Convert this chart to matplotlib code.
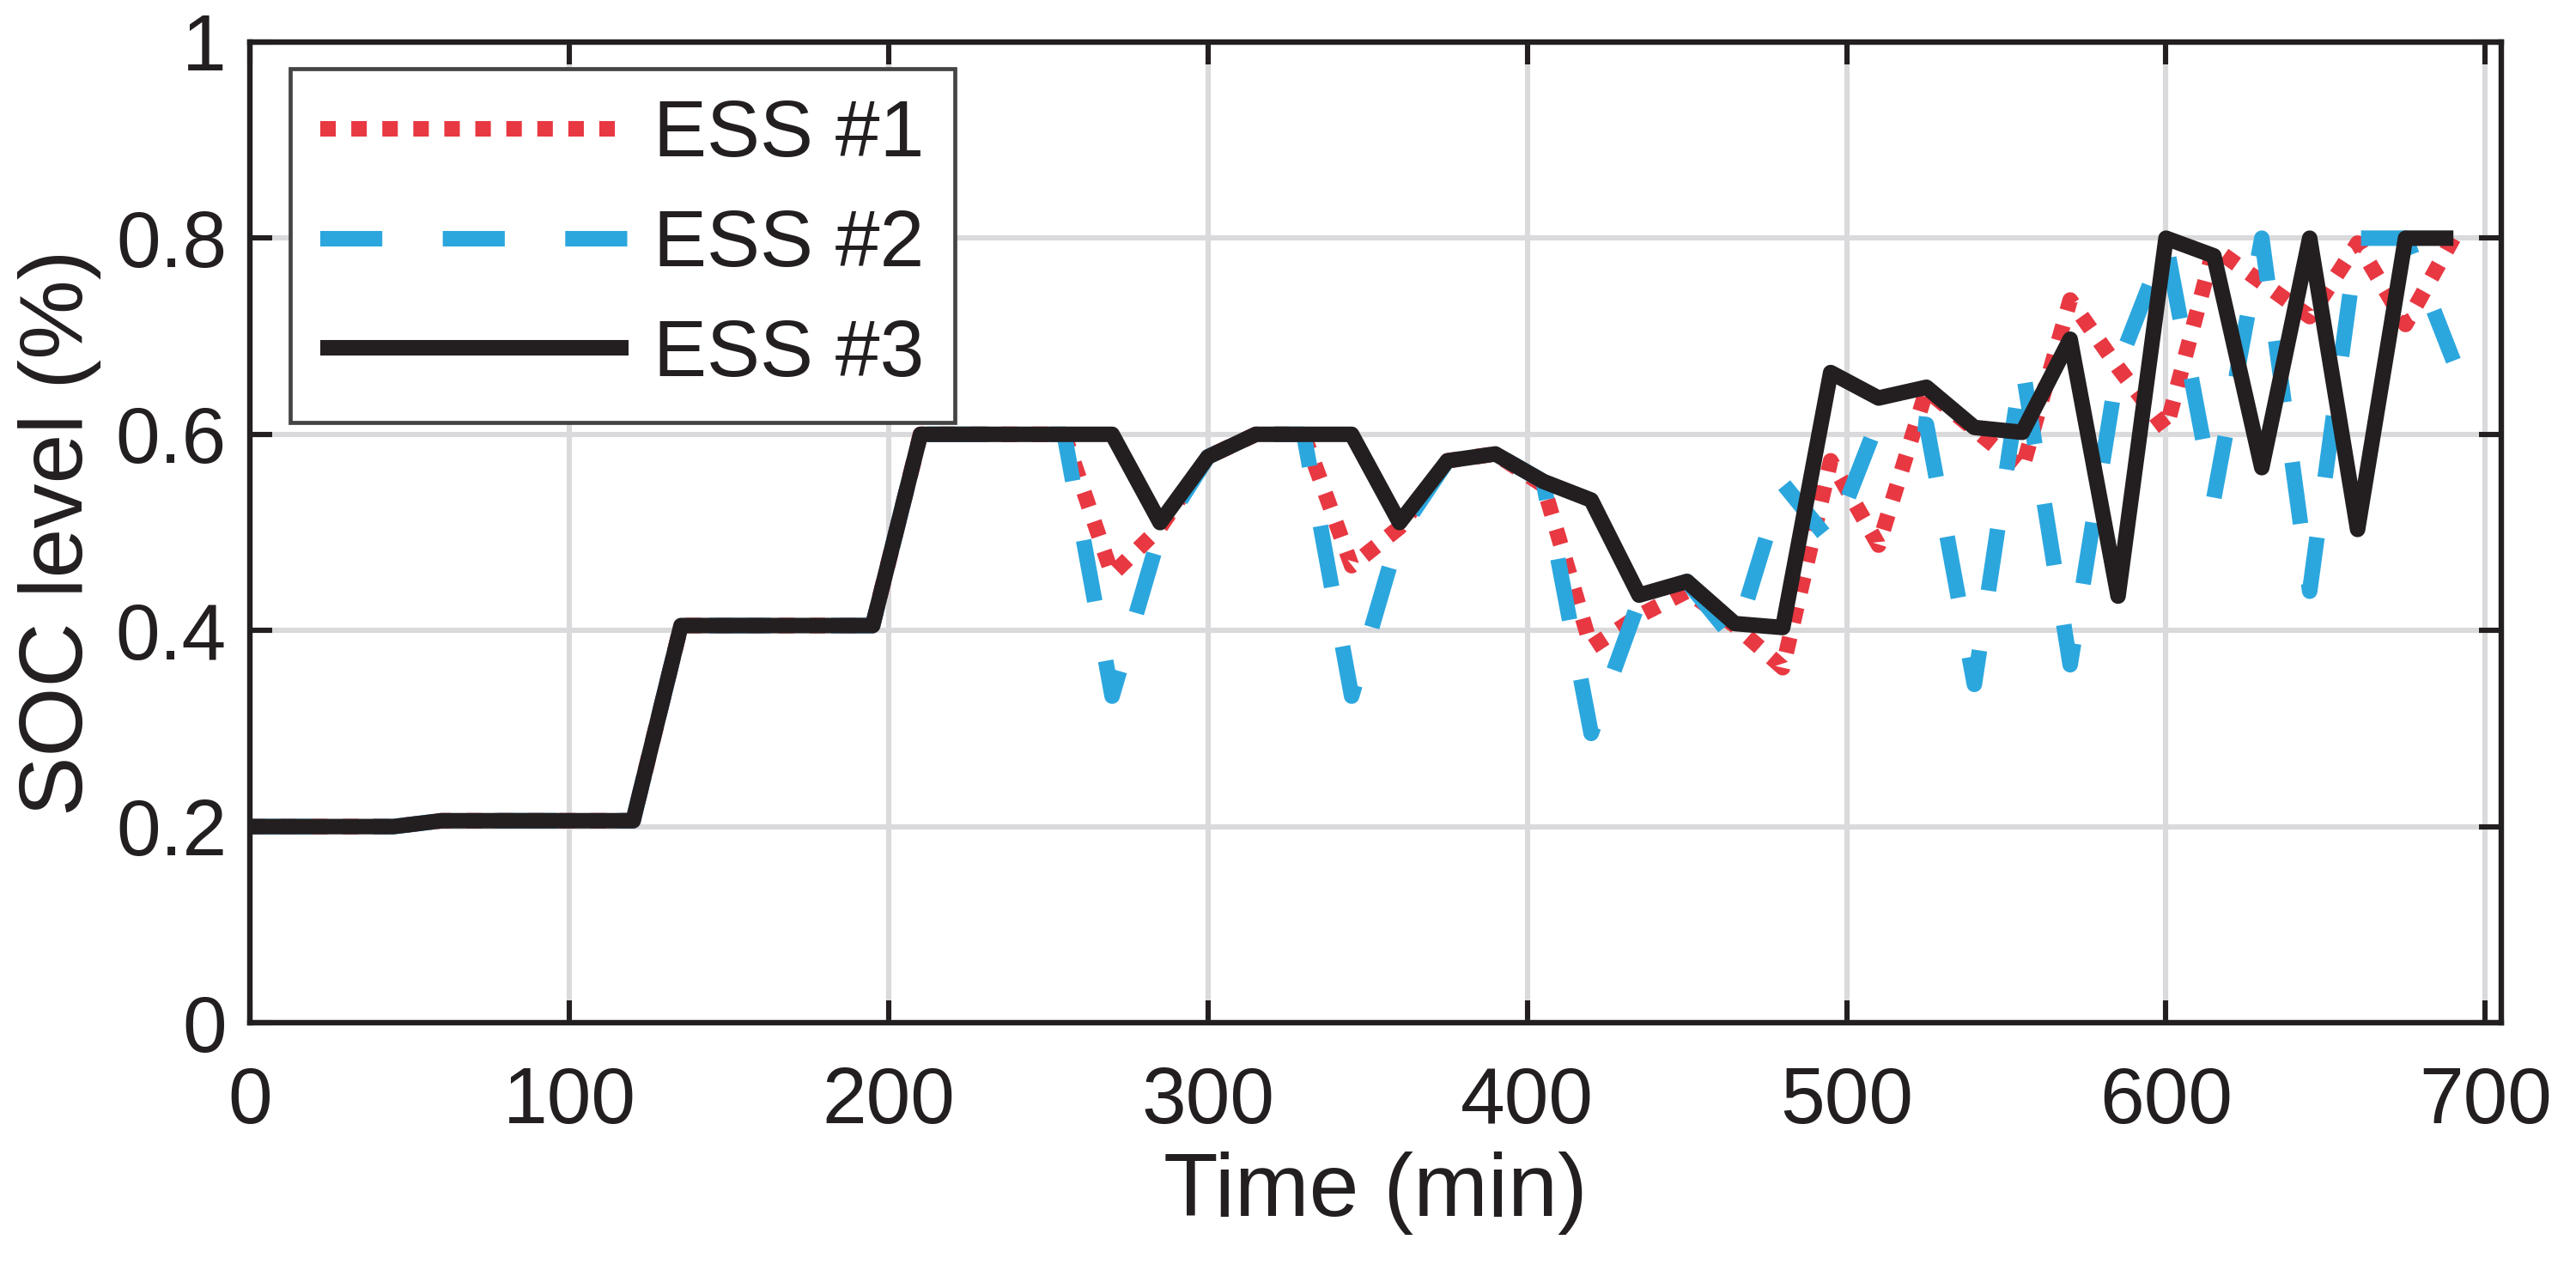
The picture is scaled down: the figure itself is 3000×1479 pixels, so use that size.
import numpy as np
import matplotlib
matplotlib.use('Agg')
import matplotlib.pyplot as plt

# SOC of the three storage units, one sample every 15 min
time_min = [0, 15, 30, 45, 60, 75, 90, 105, 120, 135, 150, 165, 180, 195,
            210, 225, 240, 255, 270, 285, 300, 315, 330, 345, 360, 375, 390,
            405, 420, 435, 450, 465, 480, 495, 510, 525, 540, 555, 570, 585,
            600, 615, 630, 645, 660, 675, 690]

ess3 = [0.2, 0.2, 0.2, 0.2, 0.206, 0.206, 0.206, 0.206, 0.206, 0.405, 0.405,
        0.405, 0.405, 0.405, 0.6, 0.6, 0.6, 0.6, 0.6, 0.51, 0.577, 0.6, 0.6,
        0.6, 0.51, 0.573, 0.58, 0.552, 0.533, 0.436, 0.45, 0.407, 0.403,
        0.663, 0.637, 0.648, 0.607, 0.602, 0.697, 0.435, 0.80, 0.782, 0.566,
        0.80, 0.503, 0.80, 0.80]

ess1 = [0.2, 0.2, 0.2, 0.2, 0.206, 0.206, 0.206, 0.206, 0.206, 0.405, 0.405,
        0.405, 0.405, 0.405, 0.6, 0.6, 0.6, 0.6, 0.457, 0.505, 0.577, 0.6, 0.6,
        0.466, 0.505, 0.573, 0.58, 0.548, 0.383, 0.415, 0.44, 0.405, 0.362,
        0.573, 0.487, 0.645, 0.605, 0.565, 0.737, 0.668, 0.605, 0.79, 0.755,
        0.72, 0.795, 0.712, 0.80]

ess2 = [0.2, 0.2, 0.2, 0.2, 0.206, 0.206, 0.206, 0.206, 0.206, 0.405, 0.405,
        0.405, 0.405, 0.405, 0.6, 0.6, 0.6, 0.6, 0.333, 0.50, 0.577, 0.6, 0.6,
        0.333, 0.50, 0.573, 0.58, 0.552, 0.295, 0.43, 0.45, 0.39, 0.55,
        0.49, 0.615, 0.61, 0.345, 0.67, 0.365, 0.67, 0.795, 0.535, 0.80,
        0.44, 0.80, 0.80, 0.675]

labels = ['ESS #1', 'ESS #2', 'ESS #3']
xticks = [0, 100, 200, 300, 400, 500, 600, 700]
yticks = [0, 0.2, 0.4, 0.6, 0.8, 1]
ytick_labels = ['0', '0.2', '0.4', '0.6', '0.8', '1']

ink = '#231F20'
plt.rcParams['font.family'] = ['Liberation Sans', 'DejaVu Sans']
plt.rcParams['text.color'] = ink
plt.rcParams['axes.labelcolor'] = ink
plt.rcParams['xtick.color'] = ink
plt.rcParams['ytick.color'] = ink

fig = plt.figure(figsize=(15, 7.395), dpi=200)
ax = fig.add_axes([0.097, 0.1947, 0.874, 0.7722])

lw = 6.5
ax.plot(time_min, ess1, color='#E83842', lw=lw, ls=(0, (1, 1)),
        dash_capstyle='butt', label=labels[0])
ax.plot(time_min, ess2, color='#2CA7DE', lw=lw, ls=(0, (4.0, 3.9)),
        dash_capstyle='butt', label=labels[1])
ax.plot(time_min, ess3, color=ink, lw=lw, solid_joinstyle='round',
        solid_capstyle='butt', label=labels[2])

ax.set_xlim(0, 705)
ax.set_ylim(0, 1)
ax.set_xticks(xticks)
ax.set_yticks(yticks)
ax.set_yticklabels(ytick_labels)
ax.grid(True, color='#dadadc', lw=2.2)
ax.set_axisbelow(True)

for sp in ax.spines.values():
    sp.set_linewidth(2.3)
    sp.set_color(ink)
ax.tick_params(direction='in', length=9.4, width=2.2, top=True, right=True,
               labelsize=33.5)
ax.tick_params(axis='x', pad=18)
ax.tick_params(axis='y', pad=9.7)

ax.set_xlabel('Time (min)', fontsize=37.5, labelpad=5)
ax.set_ylabel('SOC level (%)', fontsize=37.5, labelpad=6)

leg = ax.legend(loc='upper left', bbox_to_anchor=(0.0179, 0.9729),
                borderaxespad=0, fontsize=33.5, handlelength=3.85,
                handletextpad=0.32, borderpad=0.38, labelspacing=0.45,
                fancybox=False, framealpha=1, edgecolor='#444444')
leg.get_frame().set_linewidth(1.7)

fig.savefig('out.png', dpi=200)
